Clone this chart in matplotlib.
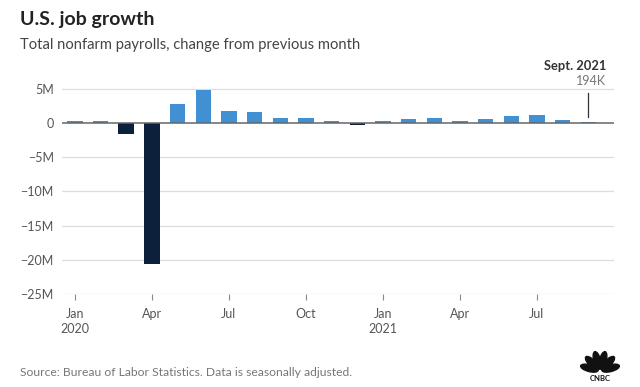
import matplotlib.pyplot as plt
from matplotlib.patches import Ellipse
import numpy as np

plt.rcParams['font.family'] = ['Lato', 'DejaVu Sans']

# zmiana zatrudnienia w tys. (sty 2020 - wrz 2021)
months = ['Jan 2020', 'Feb 2020', 'Mar 2020', 'Apr 2020', 'May 2020', 'Jun 2020',
          'Jul 2020', 'Aug 2020', 'Sep 2020', 'Oct 2020', 'Nov 2020', 'Dec 2020',
          'Jan 2021', 'Feb 2021', 'Mar 2021', 'Apr 2021', 'May 2021', 'Jun 2021',
          'Jul 2021', 'Aug 2021', 'Sep 2021']
change_k = [214, 251, -1683, -20679, 2833, 4846, 1726, 1583, 716, 680, 264, -306,
            233, 536, 785, 269, 614, 962, 1091, 366, 194]

tick_pos = [0, 3, 6, 9, 12, 15, 18]
tick_labels = ['Jan\n2020', 'Apr', 'Jul', 'Oct', 'Jan\n2021', 'Apr', 'Jul']
y_ticks = [5, 0, -5, -10, -15, -20, -25]
y_labels = ['5M', '0', '\u22125M', '\u221210M', '\u221215M', '\u221220M', '\u221225M']

BLUE = '#4190d3'
NAVY = '#0c1f3b'

fig = plt.figure(figsize=(6.4, 3.87), dpi=100)
ax = fig.add_axes([62 / 640, 1 - 294 / 387, (614 - 62) / 640, (294 - 75) / 387])

vals = [v / 1000 for v in change_k]
colors = [BLUE if v >= 0 else NAVY for v in vals]
ax.bar(range(len(vals)), vals, width=0.6, color=colors, zorder=3)

ax.set_xlim(-0.5, 21.0)
ax.set_ylim(-25, 7)

for y in y_ticks:
    if y != 0:
        ax.axhline(y, color='#dddddd', lw=0.9, zorder=1)
ax.axhline(0, color='#666666', lw=1.1, zorder=4)

ax.set_yticks(y_ticks)
ax.set_yticklabels(y_labels)
ax.set_xticks(tick_pos)
ax.set_xticklabels(tick_labels, linespacing=1.3)
ax.tick_params(axis='y', length=0, pad=6, labelsize=9, labelcolor='#555555')
ax.tick_params(axis='x', length=4, width=0.8, color='#888888', pad=6,
               labelsize=9, labelcolor='#555555')
for s in ax.spines.values():
    s.set_visible(False)

# adnotacja dla ostatniego miesiaca
last = len(vals) - 1
ax.plot([last, last], [0.9, 4.4], color='#333333', lw=0.9, zorder=5)
fig.text(606 / 640, 1 - 66 / 387, 'Sept. 2021', ha='right', va='center',
         fontsize=9.3, fontweight='bold', color='#333333')
fig.text(606 / 640, 1 - 81 / 387, '194K', ha='right', va='center',
         fontsize=9, color='#777777')

fig.text(20 / 640, 1 - 20 / 387, 'U.S. job growth', ha='left', va='center',
         fontsize=14, fontweight='bold', color='#222222')
fig.text(20 / 640, 1 - 45 / 387, 'Total nonfarm payrolls, change from previous month',
         ha='left', va='center', fontsize=10.6, color='#444444')
fig.text(20 / 640, 1 - 373 / 387,
         'Source: Bureau of Labor Statistics. Data is seasonally adjusted.',
         ha='left', va='center', fontsize=8.7, color='#777777')

# logo CNBC (uproszczone: pawie piora)
lax = fig.add_axes([578 / 640, 1 - 383 / 387, 44 / 640, 34 / 387])
lax.set_xlim(-1.1, 1.1)
lax.set_ylim(-0.6, 1.1)
lax.set_aspect('equal')
lax.axis('off')
for ang in np.linspace(15, 165, 6):
    r = np.deg2rad(ang)
    lax.add_patch(Ellipse((0.55 * np.cos(r), 0.55 * np.sin(r)), 0.9, 0.34,
                          angle=ang, color='#111111'))
lax.text(0, -0.38, 'CNBC', ha='center', va='center', fontsize=5.5,
         fontweight='bold', color='#111111')

fig.savefig('out.png', dpi=100)
